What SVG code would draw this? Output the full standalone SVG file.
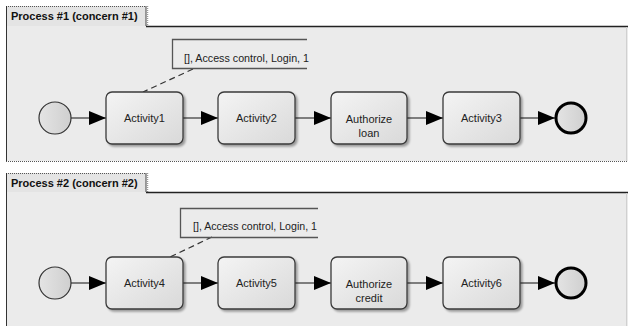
<svg xmlns="http://www.w3.org/2000/svg" width="628" height="326" viewBox="0 0 628 326">
<defs>
<linearGradient id="boxg" x1="0" y1="0" x2="1" y2="1">
<stop offset="0" stop-color="#f4f4f4"/>
<stop offset="1" stop-color="#d9d9d9"/>
</linearGradient>
<linearGradient id="circg" x1="0" y1="0" x2="1" y2="0">
<stop offset="0" stop-color="#e4e4e4"/>
<stop offset="1" stop-color="#cfcfcf"/>
</linearGradient>
<marker id="arr" markerWidth="18" markerHeight="14" refX="17" refY="7" orient="auto" markerUnits="userSpaceOnUse">
<path d="M0,0 L17,7 L0,14 Z" fill="#000"/>
</marker>
<filter id="sh" x="-10%" y="-10%" width="130%" height="130%">
<feGaussianBlur in="SourceAlpha" stdDeviation="1"/>
<feOffset dx="2" dy="2" result="b"/>
<feComponentTransfer><feFuncA type="linear" slope="0.35"/></feComponentTransfer>
<feMerge><feMergeNode/><feMergeNode in="SourceGraphic"/></feMerge>
</filter>
</defs>
<style>
.pool{fill:#ebebeb;stroke:none}
.tab{fill:#e4e4e4;stroke:none}
.tabtxt{font-family:"Liberation Sans",Arial,sans-serif;font-size:11px;font-weight:bold;fill:#111}
.edge{stroke:#222;stroke-width:1.3;fill:none}
.dot{stroke:#555;stroke-width:1;stroke-dasharray:1,1;fill:none}
.box{fill:url(#boxg);stroke:#3a3a3a;stroke-width:1.3}
.lbl{font-family:"Liberation Sans",Arial,sans-serif;font-size:11px;fill:#222;text-anchor:middle}
.start{fill:url(#circg);stroke:#333;stroke-width:1.2}
.end{fill:url(#circg);stroke:#000;stroke-width:3}
.flow{stroke:#111;stroke-width:1.2;fill:none;marker-end:url(#arr)}
.assoc{stroke:#333;stroke-width:1.2;fill:none;stroke-dasharray:6,4}
.ann{stroke:#555;stroke-width:1.3;fill:none}
.anntxt{font-family:"Liberation Sans",Arial,sans-serif;font-size:11px;fill:#222}
</style>

<g id="pool1">
<rect class="pool" x="6" y="26" width="622" height="135"/>
<rect class="tab" x="6" y="6" width="140" height="20"/>
<line class="dot" x1="6" y1="6.5" x2="146" y2="6.5"/>
<line x1="146" y1="6" x2="146" y2="26" stroke="#444" stroke-width="1"/>
<line x1="147.5" y1="6" x2="147.5" y2="26" stroke="#999" stroke-width="1.5" stroke-dasharray="1,1"/>
<line x1="146" y1="26.5" x2="628" y2="26.5" stroke="#222" stroke-width="1.3"/>
<line x1="6.5" y1="6" x2="6.5" y2="161" stroke="#333" stroke-width="1"/>
<line x1="626.5" y1="27" x2="626.5" y2="161" stroke="#d0d0d0" stroke-width="1"/>
<line class="dot" x1="6" y1="161.5" x2="628" y2="161.5"/>
<text class="tabtxt" x="11" y="20">Process #1 (concern #1)</text>
</g>

<g id="pool2">
<rect class="pool" x="6" y="192" width="622" height="134"/>
<rect class="tab" x="6" y="173" width="140" height="19"/>
<line class="dot" x1="6" y1="173.5" x2="146" y2="173.5"/>
<line x1="146" y1="173" x2="146" y2="192" stroke="#444" stroke-width="1"/>
<line x1="147.5" y1="173" x2="147.5" y2="192" stroke="#999" stroke-width="1.5" stroke-dasharray="1,1"/>
<line x1="146" y1="192.5" x2="628" y2="192.5" stroke="#222" stroke-width="1.3"/>
<line x1="6.5" y1="173" x2="6.5" y2="326" stroke="#333" stroke-width="1"/>
<line x1="626.5" y1="193" x2="626.5" y2="326" stroke="#d0d0d0" stroke-width="1"/>
<text class="tabtxt" x="11" y="187">Process #2 (concern #2)</text>
</g>

<g id="connectors">
<line class="flow" x1="71" y1="118" x2="106" y2="118"/>
<line class="flow" x1="183" y1="118" x2="218" y2="118"/>
<line class="flow" x1="295" y1="118" x2="331" y2="118"/>
<line class="flow" x1="407" y1="118" x2="443" y2="118"/>
<line class="flow" x1="520" y1="118" x2="555" y2="118"/>
<line class="assoc" x1="193" y1="69" x2="143" y2="92"/>
<line class="flow" x1="71" y1="283" x2="106" y2="283"/>
<line class="flow" x1="183" y1="283" x2="218" y2="283"/>
<line class="flow" x1="295" y1="283" x2="331" y2="283"/>
<line class="flow" x1="407" y1="283" x2="443" y2="283"/>
<line class="flow" x1="520" y1="283" x2="555" y2="283"/>
<line class="assoc" x1="212" y1="237" x2="170" y2="257"/>
</g>

<g id="start1"><circle class="start" cx="55" cy="118" r="16"/></g>
<g id="activity1"><rect class="box" x="106" y="92" width="77" height="52" rx="6" filter="url(#sh)"/><text class="lbl" x="144.5" y="122">Activity1</text></g>
<g id="activity2"><rect class="box" x="218" y="92" width="77" height="52" rx="6" filter="url(#sh)"/><text class="lbl" x="256.5" y="122">Activity2</text></g>
<g id="authorizeLoan"><rect class="box" x="331" y="92" width="76" height="52" rx="6" filter="url(#sh)"/><text class="lbl" x="369" y="123">Authorize</text><text class="lbl" x="369" y="137">loan</text></g>
<g id="activity3"><rect class="box" x="443" y="92" width="77" height="52" rx="6" filter="url(#sh)"/><text class="lbl" x="481.5" y="122">Activity3</text></g>
<g id="end1"><circle class="end" cx="571" cy="118" r="15"/></g>
<g id="annotation1"><path class="ann" d="M307,39.5 H172.5 V68.5 H307"/><text class="anntxt" x="184" y="62" textLength="125" lengthAdjust="spacingAndGlyphs">[], Access control, Login, 1</text></g>

<g id="start2"><circle class="start" cx="55" cy="283" r="16"/></g>
<g id="activity4"><rect class="box" x="106" y="257" width="77" height="52" rx="6" filter="url(#sh)"/><text class="lbl" x="144.5" y="287">Activity4</text></g>
<g id="activity5"><rect class="box" x="218" y="257" width="77" height="52" rx="6" filter="url(#sh)"/><text class="lbl" x="256.5" y="287">Activity5</text></g>
<g id="authorizeCredit"><rect class="box" x="331" y="257" width="76" height="52" rx="6" filter="url(#sh)"/><text class="lbl" x="369" y="288">Authorize</text><text class="lbl" x="369" y="302">credit</text></g>
<g id="activity6"><rect class="box" x="443" y="257" width="77" height="52" rx="6" filter="url(#sh)"/><text class="lbl" x="481.5" y="287">Activity6</text></g>
<g id="end2"><circle class="end" cx="571" cy="283" r="15"/></g>
<g id="annotation2"><path class="ann" d="M318,208.5 H180.5 V237.5 H318"/><text class="anntxt" x="193" y="230" textLength="124" lengthAdjust="spacingAndGlyphs">[], Access control, Login, 1</text></g>
</svg>
